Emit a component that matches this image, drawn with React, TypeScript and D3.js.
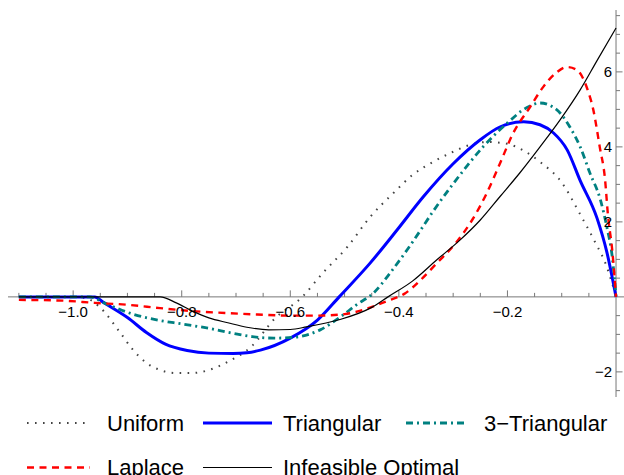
import React from "react";
import * as d3 from "d3";

const uniformX = [-1.1, -1.0, -0.975, -0.95, -0.913, -0.89, -0.865, -0.84, -0.81, -0.78, -0.75, -0.715, -0.67, -0.63, -0.578, -0.54, -0.495, -0.453, -0.41, -0.375, -0.337, -0.3, -0.27, -0.235, -0.2, -0.17, -0.14, -0.1, -0.066, -0.04, -0.017, 0];
const uniformY = [0, 0, -0.04, -0.29, -0.96, -1.41, -1.76, -1.95, -2.03, -2.03, -1.95, -1.73, -1.3, -0.6, 0, 0.64, 1.33, 2.13, 2.77, 3.25, 3.6, 3.87, 4.05, 4.13, 4.08, 3.9, 3.6, 3.05, 2.2, 1.5, 0.8, 0];

const triX = [-1.1, -0.96, -0.945, -0.9, -0.865, -0.83, -0.79, -0.75, -0.705, -0.68, -0.655, -0.6, -0.55, -0.51, -0.453, -0.403, -0.355, -0.3, -0.25, -0.214, -0.17, -0.14, -0.115, -0.09, -0.066, -0.035, -0.017, 0];
const triY = [0, 0, -0.14, -0.55, -0.95, -1.26, -1.43, -1.5, -1.51, -1.49, -1.42, -1.1, -0.62, 0, 0.9, 1.79, 2.67, 3.55, 4.19, 4.53, 4.67, 4.59, 4.37, 3.92, 3.1, 2.1, 1.2, 0];

const tri3X = [-1.1, -0.97, -0.94, -0.89, -0.84, -0.8, -0.75, -0.71, -0.67, -0.63, -0.595, -0.545, -0.51, -0.477, -0.447, -0.416, -0.385, -0.36, -0.337, -0.306, -0.274, -0.245, -0.2, -0.164, -0.14, -0.11, -0.085, -0.066, -0.048, -0.029, -0.017, -0.007, 0];
const tri3Y = [0, 0, -0.18, -0.46, -0.63, -0.72, -0.84, -0.96, -1.06, -1.1, -1.08, -0.88, -0.56, -0.2, 0.1, 0.64, 1.25, 1.78, 2.28, 2.9, 3.5, 4.0, 4.64, 5.05, 5.17, 5.0, 4.53, 4.0, 3.3, 2.6, 1.87, 1.07, 0];

const laplaceX = [-1.1, -1.02, -0.96, -0.9, -0.84, -0.78, -0.72, -0.66, -0.6, -0.55, -0.5, -0.46, -0.42, -0.39, -0.36, -0.33, -0.295, -0.265, -0.238, -0.214, -0.19, -0.158, -0.134, -0.11, -0.09, -0.072, -0.053, -0.042, -0.03, -0.02, -0.015, -0.007, 0];
const laplaceY = [-0.08, -0.1, -0.16, -0.21, -0.3, -0.38, -0.43, -0.47, -0.5, -0.5, -0.46, -0.32, -0.1, 0.08, 0.45, 0.9, 1.44, 2.05, 2.77, 3.55, 4.35, 5.07, 5.6, 5.98, 6.13, 6.05, 5.55, 5.0, 4.0, 3.1, 2.2, 1.25, 0];

const optX = [-1.1, -0.84, -0.81, -0.78, -0.75, -0.715, -0.68, -0.64, -0.6, -0.57, -0.51, -0.45, -0.42, -0.375, -0.33, -0.287, -0.25, -0.214, -0.177, -0.14, -0.103, -0.066, -0.035, 0];
const optY = [0, 0, -0.16, -0.38, -0.56, -0.69, -0.81, -0.88, -0.87, -0.8, -0.61, -0.28, 0, 0.42, 0.99, 1.52, 2.05, 2.67, 3.31, 4.0, 4.72, 5.52, 6.3, 7.17];

const xMajorTicks = [-1.0, -0.8, -0.6, -0.4, -0.2];
const xTickLabels = ["\u22121.0", "\u22120.8", "\u22120.6", "\u22120.4", "\u22120.2"];
const yMajorTicks = [-2, 2, 4, 6];
const yTickLabels = ["\u22122", "2", "4", "6"];

const seriesNames = ["Uniform", "Triangular", "3\u2212Triangular", "Laplace", "Infeasible Optimal"];

export default function App() {
  const W = 624, H = 475;
  const x = d3.scaleLinear().domain([-1.12, 0.0147]).range([8, 624]);
  const y = d3.scaleLinear().domain([-2.67, 7.65]).range([397, 10]);
  const x0 = x(0), y0 = y(0);

  const mk = (xs: number[], ys: number[]) =>
    d3.line<number>().x((_, i) => x(xs[i])).y((_, i) => y(ys[i])).curve(d3.curveMonotoneX)(xs.map((_, i) => i)) || "";

  const styles = [
    { stroke: "#444", width: 2, dash: "1.6,6.4" },
    { stroke: "#0000ff", width: 3, dash: "" },
    { stroke: "#008080", width: 2.8, dash: "7,4,2,4" },
    { stroke: "#ff0000", width: 2.4, dash: "7,5.5" },
    { stroke: "#000", width: 1.2, dash: "" },
  ];
  const paths = [
    mk(uniformX, uniformY),
    mk(triX, triY),
    mk(tri3X, tri3Y),
    mk(laplaceX, laplaceY),
    mk(optX, optY),
  ];

  const xMinor: number[] = [];
  for (let i = -22; i <= -1; i++) xMinor.push(i * 0.05);
  const yMinor: number[] = [];
  for (let i = -5; i <= 15; i++) yMinor.push(i * 0.5);

  const axisColor = "#777";
  const font = "'Liberation Sans', Arial, sans-serif";

  const legend = [
    { lx: 27, lx2: 90, tx: 107, ly: 423 },
    { lx: 203, lx2: 272, tx: 283, ly: 423 },
    { lx: 406, lx2: 468, tx: 484, ly: 423 },
    { lx: 27, lx2: 90, tx: 107, ly: 467.5 },
    { lx: 203, lx2: 272, tx: 283, ly: 467.5 },
  ];

  return (
    <svg width={W} height={H} style={{ position: "absolute", left: 0, top: 0, background: "#fff" }}>
      <line x1={8} x2={624} y1={y0} y2={y0} stroke={axisColor} strokeWidth={1} />
      <line x1={x0} x2={x0} y1={10} y2={397} stroke={axisColor} strokeWidth={1} />
      {xMinor.map((t, i) => {
        const isMajor = xMajorTicks.some((m) => Math.abs(m - t) < 1e-6);
        return <line key={"xm" + i} x1={x(t)} x2={x(t)} y1={y0} y2={y0 - (isMajor ? 6.5 : 4)} stroke={axisColor} strokeWidth={1} />;
      })}
      {yMinor.map((t, i) => {
        if (Math.abs(t) < 1e-6) return null;
        const isMajor = yMajorTicks.some((m) => Math.abs(m - t) < 1e-6);
        return <line key={"ym" + i} x1={x0} x2={x0 + (isMajor ? 6.5 : 4)} y1={y(t)} y2={y(t)} stroke={axisColor} strokeWidth={1} />;
      })}
      {paths.map((p, i) => (
        <path key={"p" + i} d={p} fill="none" stroke={styles[i].stroke} strokeWidth={styles[i].width} strokeDasharray={styles[i].dash || undefined} />
      ))}
      {xMajorTicks.map((t, i) => (
        <text key={"xl" + i} x={x(t)} y={y0 + 20} textAnchor="middle" fontFamily={font} fontSize={15} fill="#000">{xTickLabels[i]}</text>
      ))}
      {yMajorTicks.map((t, i) => (
        <text key={"yl" + i} x={x0 - 4} y={y(t) + 5.5} textAnchor="end" fontFamily={font} fontSize={15} fill="#000">{yTickLabels[i]}</text>
      ))}
      {legend.map((l, i) => (
        <g key={"lg" + i}>
          <line x1={l.lx} x2={l.lx2} y1={l.ly} y2={l.ly} stroke={styles[i].stroke} strokeWidth={styles[i].width} strokeDasharray={styles[i].dash || undefined} />
          <text x={l.tx} y={l.ly + 7.8} fontFamily={font} fontSize={22} fill="#000">{seriesNames[i]}</text>
        </g>
      ))}
    </svg>
  );
}
